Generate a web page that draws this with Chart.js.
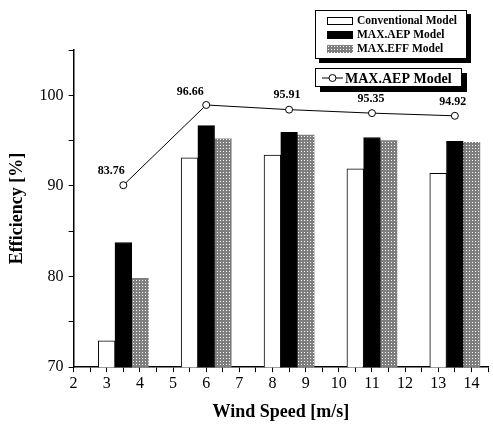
<!DOCTYPE html>
<html>
<head>
<meta charset="utf-8">
<script src="https://cdn.jsdelivr.net/npm/chart.js@4.4.1/dist/chart.umd.min.js"></script>
<style>
  body { margin: 0; background: #fff; }
  #wrap { width: 493px; height: 428px; }
</style>
</head>
<body>
<div id="wrap"><canvas id="chart" width="493" height="428"></canvas></div>
<script>
// ---- data ----
const groupSpeeds = [3.5, 6, 8.5, 11, 13.5];
const conventional = [72.9, 93.1, 93.4, 91.9, 91.4];
const maxAep = [83.76, 96.66, 95.91, 95.35, 94.92];
const maxEff = [79.8, 95.2, 95.6, 95.0, 94.8];
const seriesNames = ['Conventional Model', 'MAX.AEP Model', 'MAX.EFF Model'];
const lineName = 'MAX.AEP Model';
const xTicks = [2, 3, 4, 5, 6, 7, 8, 9, 10, 11, 12, 13, 14];
const yTicks = [70, 80, 90, 100];

// value label nudges (style only)
const labelShift = [[-12, -14], [-16, -13], [-2, -15], [-1, -14], [-2, -14]];

const serif = "'Liberation Serif', 'Times New Roman', serif";

// ---- dotted grey fill for MAX.EFF ----
function makeDots() {
    const c = document.createElement('canvas');
    c.width = 3; c.height = 3;
    const g = c.getContext('2d');
    g.fillStyle = '#7e7e7e';
    g.fillRect(0, 0, 3, 3);
    g.fillStyle = '#ffffff';
    g.fillRect(1, 1, 1, 1);
    return g.createPattern(c, 'repeat');
}
const dots = makeDots();

const pairs = arr => groupSpeeds.map((x, i) => ({ x, y: arr[i] }));

// ---- value labels over the line ----
const valueLabels = {
    id: 'valueLabels',
    afterDatasetsDraw(chart) {
        const ctx = chart.ctx;
        const meta = chart.getDatasetMeta(3);
        ctx.save();
        ctx.font = 'bold 12px ' + serif;
        ctx.fillStyle = '#000';
        ctx.textAlign = 'center';
        ctx.textBaseline = 'middle';
        meta.data.forEach((pt, i) => {
            const [dx, dy] = labelShift[i];
            ctx.fillText(maxAep[i].toFixed(2), pt.x + dx, pt.y + dy);
        });
        ctx.restore();
    }
};

// ---- boxed legends with drop shadow ----
const boxLegend = {
    id: 'boxLegend',
    afterDraw(chart) {
        const ctx = chart.ctx;
        const right = chart.width - 26;
        const box = (x, y, w, h, off) => {
            ctx.fillStyle = '#000';
            ctx.fillRect(x + off, y + off, w, h);
            ctx.fillStyle = '#fff';
            ctx.fillRect(x, y, w, h);
            ctx.strokeStyle = '#000';
            ctx.lineWidth = 1;
            ctx.strokeRect(x + 0.5, y + 0.5, w - 1, h - 1);
        };
        ctx.save();
        // bars legend
        const w1 = 152, x1 = right - w1;
        box(x1, 10, w1, 49, 4);
        const fills = ['#fff', '#000', dots];
        ctx.font = 'bold 11.5px ' + serif;
        ctx.textBaseline = 'middle';
        seriesNames.forEach((name, i) => {
            const cy = 21 + i * 14;
            ctx.fillStyle = fills[i];
            ctx.fillRect(x1 + 12, cy - 4, 26, 8);
            if (i === 0) {
                ctx.strokeStyle = '#000';
                ctx.strokeRect(x1 + 12.5, cy - 3.5, 25, 7);
            }
            ctx.fillStyle = '#000';
            ctx.fillText(name, x1 + 42, cy);
        });
        // line legend
        const w2 = 147, x2 = right - w1;
        box(x2, 68, w2, 19, 5);
        const cy = 78;
        ctx.strokeStyle = '#000';
        ctx.beginPath();
        ctx.moveTo(x2 + 7, cy);
        ctx.lineTo(x2 + 28, cy);
        ctx.stroke();
        ctx.beginPath();
        ctx.arc(x2 + 17.5, cy, 3.5, 0, Math.PI * 2);
        ctx.fillStyle = '#fff';
        ctx.fill();
        ctx.stroke();
        ctx.fillStyle = '#000';
        ctx.font = 'bold 14px ' + serif;
        ctx.fillText(lineName, x2 + 30, cy + 1);
        ctx.restore();
    }
};

new Chart(document.getElementById('chart'), {
    type: 'bar',
    data: {
        datasets: [
            {
                label: seriesNames[0],
                data: pairs(conventional),
                backgroundColor: '#fff',
                borderColor: '#000',
                borderWidth: 1,
                order: 2
            },
            {
                label: seriesNames[1],
                data: pairs(maxAep),
                backgroundColor: '#000',
                borderColor: '#000',
                borderWidth: 1,
                order: 2
            },
            {
                label: seriesNames[2],
                data: pairs(maxEff),
                backgroundColor: dots,
                borderColor: '#777',
                borderWidth: 0,
                order: 2
            },
            {
                type: 'line',
                label: lineName,
                data: pairs(maxAep),
                yAxisID: 'y2',
                borderColor: '#000',
                borderWidth: 1,
                pointRadius: 3.5,
                pointBackgroundColor: '#fff',
                pointBorderColor: '#000',
                pointBorderWidth: 1,
                tension: 0,
                order: 1
            }
        ]
    },
    options: {
        responsive: false,
        animation: false,
        barThickness: 16.7,
        layout: { padding: { top: 50, right: 2, left: 7, bottom: 5 } },
        plugins: {
            legend: { display: false },
            tooltip: { enabled: false }
        },
        scales: {
            x: {
                type: 'linear',
                min: 2,
                max: 14.5,
                offset: false,
                grid: { offset: false, drawOnChartArea: false, color: '#000', tickLength: 5 },
                border: { color: '#000', width: 1.5 },
                ticks: {
                    stepSize: 0.5,
                    autoSkip: false,
                    maxRotation: 0,
                    padding: 2,
                    color: '#000',
                    font: { family: serif, size: 16 },
                    callback: v => xTicks.includes(v) ? String(v) : ''
                },
                title: {
                    display: true,
                    text: 'Wind Speed [m/s]',
                    color: '#000',
                    font: { family: serif, size: 18, weight: 'bold' },
                    padding: { top: 6, bottom: 0 }
                }
            },
            y: {
                min: 70,
                max: 105,
                grid: { drawOnChartArea: false, color: '#000', tickLength: 5 },
                border: { color: '#000', width: 1.5 },
                ticks: {
                    stepSize: 5,
                    autoSkip: false,
                    padding: 5,
                    color: '#000',
                    font: { family: serif, size: 16 },
                    callback: v => yTicks.includes(v) ? String(v) : ''
                },
                title: {
                    display: true,
                    text: 'Efficiency [%]',
                    color: '#000',
                    font: { family: serif, size: 18, weight: 'bold' },
                    padding: { top: 0, bottom: 6 }
                }
            },
            y2: {
                display: false,
                min: 54.5,
                max: 105.5
            }
        }
    },
    plugins: [valueLabels, boxLegend]
});
</script>
</body>
</html>
